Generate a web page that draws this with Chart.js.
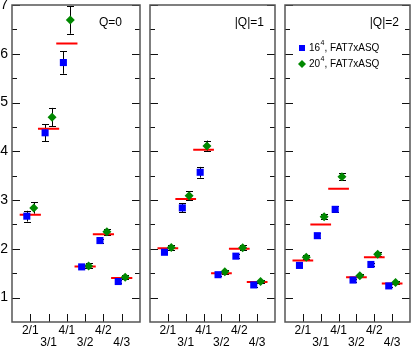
<!DOCTYPE html>
<html><head><meta charset="utf-8">
<script src="https://cdn.jsdelivr.net/npm/chart.js@4/dist/chart.umd.min.js"></script>
<style>
html,body{margin:0;padding:0;background:#fff;}
#wrap{position:relative;width:415px;height:349px;overflow:hidden;}
.p{position:absolute;top:0;height:349px;}
canvas{display:block;}
</style></head><body>
<div id="wrap">
<div class="p" style="left:0;width:145px"><canvas id="c0" width="145" height="349"></canvas></div>
<div class="p" style="left:145px;width:135px"><canvas id="c1" width="135" height="349"></canvas></div>
<div class="p" style="left:280px;width:135px"><canvas id="c2" width="135" height="349"></canvas></div>
</div>
<script>
// ---- data ----
const categories = ['2/1', '3/1', '4/1', '3/2', '4/2', '4/3'];
const panelLabels = ['Q=0', '|Q|=1', '|Q|=2'];
const yTickValues = [1, 2, 3, 4, 5, 6, 7];
const seriesNames = ['16', '20'];
const seriesSuffix = ', FAT7xASQ';

const q0Blue     = [2.67, 4.38, 5.82, 1.63, 2.17, 1.33];
const q0BlueErr  = [0.11, 0.17, 0.23, 0.03, 0.04, 0.04];
const q0Green    = [2.84, 4.70, 6.69, 1.65, 2.35, 1.42];
const q0GreenErr = [0.12, 0.19, 0.28, 0.05, 0.06, 0.04];
const q0Red      = [2.70, 4.46, 6.21, 1.64, 2.30, 1.40];

const q1Blue     = [1.93, 2.84, 3.57, 1.47, 1.85, 1.26];
const q1BlueErr  = [0.04, 0.09, 0.11, 0.03, 0.04, 0.04];
const q1Green    = [2.03, 3.09, 4.11, 1.53, 2.02, 1.33];
const q1GreenErr = [0.05, 0.09, 0.11, 0.04, 0.05, 0.03];
const q1Red      = [2.01, 3.02, 4.03, 1.50, 2.00, 1.32];

const q2Blue     = [1.66, 2.27, 2.81, 1.36, 1.68, 1.24];
const q2BlueErr  = [0.04, 0.05, 0.06, 0.03, 0.04, 0.03];
const q2Green    = [1.83, 2.66, 3.48, 1.45, 1.89, 1.31];
const q2GreenErr = [0.04, 0.05, 0.07, 0.03, 0.04, 0.03];
const q2Red      = [1.76, 2.50, 3.23, 1.42, 1.83, 1.29];

const panels = [
  {blue: q0Blue, blueErr: q0BlueErr, green: q0Green, greenErr: q0GreenErr, red: q0Red},
  {blue: q1Blue, blueErr: q1BlueErr, green: q1Green, greenErr: q1GreenErr, red: q1Red},
  {blue: q2Blue, blueErr: q2BlueErr, green: q2Green, greenErr: q2GreenErr, red: q2Red}
];

// ---- styling ----
const FONT = "'Liberation Sans', Arial, sans-serif";
const BLUE = '#0000ff', GREEN = '#008800', RED = '#ff0000';
const BLUE_OFF = -0.19, GREEN_OFF = 0.19, RED_HALF = 0.58;
const labelRightGap = [18, 11, 11];

function pts(vals, off) { return vals.map((v, i) => ({x: i + 1 + off, y: v})); }
function redSegs(vals) {
  const out = [];
  vals.forEach((v, i) => {
    out.push({x: i + 1 - RED_HALF, y: v});
    out.push({x: i + 1 + RED_HALF, y: v});
    out.push({x: i + 1.5 + RED_HALF, y: null});
  });
  return out;
}

function makePlugin(pi) {
  return {
    id: 'decor' + pi,
    beforeDatasetsDraw(chart) {
      const ctx = chart.ctx, xs = chart.scales.x, ys = chart.scales.y;
      ctx.save();
      ctx.strokeStyle = '#000';
      ctx.lineWidth = 1;
      chart.data.datasets.forEach(ds => {
        if (!ds.errors) return;
        ds.data.forEach((p, j) => {
          const e = ds.errors[j];
          const x = Math.round(xs.getPixelForValue(p.x)) + 0.5;
          const y1 = ys.getPixelForValue(p.y - e), y2 = ys.getPixelForValue(p.y + e);
          ctx.beginPath();
          ctx.moveTo(x, y1); ctx.lineTo(x, y2);
          ctx.moveTo(x - 3.5, Math.round(y1) + 0.5); ctx.lineTo(x + 3.5, Math.round(y1) + 0.5);
          ctx.moveTo(x - 3.5, Math.round(y2) + 0.5); ctx.lineTo(x + 3.5, Math.round(y2) + 0.5);
          ctx.stroke();
        });
      });
      ctx.restore();
    },
    afterDraw(chart) {
      const ctx = chart.ctx, a = chart.chartArea, xs = chart.scales.x, ys = chart.scales.y;
      ctx.save();
      // ticks
      ctx.strokeStyle = '#111';
      ctx.lineWidth = 1;
      ctx.beginPath();
      yTickValues.forEach(v => {
        const y = Math.round(ys.getPixelForValue(v)) + 0.5;
        ctx.moveTo(a.left, y); ctx.lineTo(a.left + 8, y);
        ctx.moveTo(a.right, y); ctx.lineTo(a.right - 8, y);
        const ym = Math.round(ys.getPixelForValue(v + 0.5)) + 0.5;
        if (v + 0.5 < 7) {
          ctx.moveTo(a.left, ym); ctx.lineTo(a.left + 5, ym);
          ctx.moveTo(a.right, ym); ctx.lineTo(a.right - 5, ym);
        }
      });
      categories.forEach((c, i) => {
        const x = Math.round(xs.getPixelForValue(i + 1)) + 0.5;
        ctx.moveTo(x, a.bottom); ctx.lineTo(x, a.bottom - 8);
      });
      ctx.stroke();
      // frame
      ctx.strokeStyle = '#555';
      ctx.lineWidth = 1.5;
      ctx.strokeRect(a.left, a.top, a.right - a.left, a.bottom - a.top);
      // panel label
      ctx.fillStyle = '#000';
      ctx.font = '12px ' + FONT;
      ctx.textAlign = 'right';
      ctx.textBaseline = 'middle';
      ctx.fillText(panelLabels[pi], a.right - labelRightGap[pi], a.top + 18);
      // legend
      if (pi === 2) {
        ctx.textAlign = 'left';
        const lx = a.left + 17;
        const rows = [{c: BLUE, t: 'rect', y: a.top + 43}, {c: GREEN, t: 'rectRot', y: a.top + 59}];
        rows.forEach((r, k) => {
          ctx.fillStyle = r.c;
          if (r.t === 'rect') {
            ctx.fillRect(lx - 3, r.y - 3, 6, 6);
          } else {
            ctx.beginPath();
            ctx.moveTo(lx - 4, r.y); ctx.lineTo(lx, r.y - 4); ctx.lineTo(lx + 4, r.y); ctx.lineTo(lx, r.y + 4);
            ctx.closePath(); ctx.fill();
          }
          ctx.fillStyle = '#000';
          ctx.font = '10px ' + FONT;
          ctx.textBaseline = 'middle';
          let tx = lx + 7;
          ctx.fillText(seriesNames[k], tx, r.y);
          tx += ctx.measureText(seriesNames[k]).width;
          ctx.font = '7px ' + FONT;
          ctx.fillText('4', tx + 0.5, r.y - 5);
          tx += ctx.measureText('4').width + 0.5;
          ctx.font = '10px ' + FONT;
          ctx.fillText(seriesSuffix, tx, r.y);
        });
      }
      ctx.restore();
    }
  };
}

function makeChart(pi) {
  const P = panels[pi];
  const showY = pi === 0;
  return new Chart(document.getElementById('c' + pi), {
    type: 'scatter',
    data: {
      datasets: [
        {data: pts(P.blue, BLUE_OFF), errors: P.blueErr, pointStyle: 'rect', pointRadius: 5,
         backgroundColor: BLUE, borderColor: BLUE, borderWidth: 0, pointHoverRadius: 5},
        {data: pts(P.green, GREEN_OFF), errors: P.greenErr, pointStyle: 'rectRot', pointRadius: 4.5,
         backgroundColor: GREEN, borderColor: GREEN, borderWidth: 0, pointHoverRadius: 4.5},
        {data: redSegs(P.red), showLine: true, spanGaps: false, pointRadius: 0, pointHoverRadius: 0,
         borderColor: RED, borderWidth: 2, backgroundColor: RED, fill: false}
      ]
    },
    options: {
      responsive: false,
      animation: false,
      events: [],
      layout: {padding: {left: showY ? 0 : 2, right: 2, top: 5, bottom: 0}},
      plugins: {legend: {display: false}, tooltip: {enabled: false}},
      scales: {
        x: {
          type: 'linear', min: 0, max: 7, position: 'bottom',
          grid: {display: false, drawTicks: false, tickLength: 0}, border: {display: false},
          afterBuildTicks(s) { s.ticks = categories.map((c, i) => ({value: i + 1})); },
          afterFit(s) { s.height = 27; s.paddingLeft = 0; s.paddingRight = 0; },
          ticks: {
            autoSkip: false, maxRotation: 0, minRotation: 0, padding: 3, color: '#000',
            font: {family: FONT, size: 12, lineHeight: 1},
            callback(v) {
              const i = Math.round(v) - 1;
              if (i < 0 || i >= categories.length) return '';
              return i % 2 ? ['', categories[i]] : categories[i];
            }
          }
        },
        y: {
          type: 'linear', min: 0.5, max: 7, display: showY,
          grid: {display: false, drawTicks: false, tickLength: 0}, border: {display: false},
          afterBuildTicks(s) { s.ticks = yTickValues.map(v => ({value: v})); },
          afterFit(s) { if (showY) s.width = 12; s.paddingTop = 0; s.paddingBottom = 0; },
          ticks: {
            padding: 4, color: '#000', autoSkip: false,
            font: {family: FONT, size: 14, lineHeight: 1},
            callback(v) { return String(v); }
          }
        }
      }
    },
    plugins: [makePlugin(pi)]
  });
}
[0, 1, 2].forEach(makeChart);
</script>
</body></html>
